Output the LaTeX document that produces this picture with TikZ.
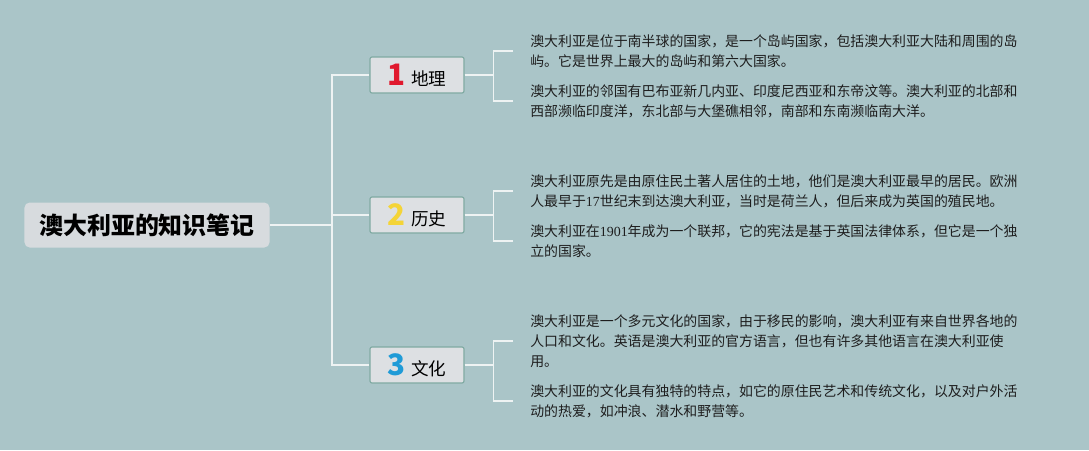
\documentclass[tikz,border=0pt]{standalone}
\usepackage{fontspec}
\setmainfont{Noto Sans CJK SC}
\newfontfamily\digitfont{Liberation Serif}
\usepackage{tikz}
\usetikzlibrary{positioning}
\usepackage{xcolor}
\definecolor{bgteal}{HTML}{AAC5C8}
\definecolor{linewhite}{HTML}{EEF3F3}
\definecolor{rootfill}{HTML}{D7DBDE}
\definecolor{topicfill}{HTML}{DDE0E3}
\definecolor{topicdraw}{HTML}{7FAAA2}
\definecolor{leaftext}{HTML}{1E1E1E}
\definecolor{numred}{HTML}{E0192E}
\definecolor{numyellow}{HTML}{F4D437}
\definecolor{numblue}{HTML}{1F9BD7}
\tikzstyle{root} = [rectangle, rounded corners=0.13cm, fill=rootfill,
    minimum width=6.125cm, minimum height=1.125cm, text=black,
    font=\fontsize{17}{20}\selectfont\bfseries]
\tikzstyle{topic} = [rectangle, rounded corners=0.05cm, draw=topicdraw, line width=0.8pt,
    fill=topicfill, minimum width=2.35cm, minimum height=0.9cm, inner sep=0pt,
    font=\fontsize{12.5}{14}\selectfont]
\tikzstyle{leaf} = [anchor=west, align=left, inner sep=0pt, text=leaftext,
    font=\fontsize{9.9}{14.2}\selectfont]
\tikzstyle{link} = [draw=linewhite, line width=1.3pt]
\newcommand{\topicnum}[2]{{\fontsize{21}{21}\selectfont\bfseries\textcolor{#1}{#2}}\hspace{0.14cm}}
\newcommand{\yr}[1]{{\digitfont #1}}

\begin{document}
\begin{tikzpicture}[x=0.025cm, y=-0.025cm]
\useasboundingbox (0,0) rectangle (1089,450);
\fill[bgteal] (0,0) rectangle (1089,450);

% --- centro ---
\node (aus) [root] at (147,225) {澳大利亚的知识笔记};

% --- temas ---
\node (geo) [topic] at (417,75) {\topicnum{numred}{1}地理};
\node (hist) [topic] at (417,215) {\topicnum{numyellow}{2}历史};
\node (cult) [topic] at (417,365) {\topicnum{numblue}{3}文化};

% --- hojas: 地理 ---
\node (geoa) [leaf] at (530,51) {澳大利亚是位于南半球的国家，是一个岛屿国家，包括澳大利亚大陆和周围的岛\\屿。它是世界上最大的岛屿和第六大国家。};
\node (geob) [leaf] at (530,101) {澳大利亚的邻国有巴布亚新几内亚、印度尼西亚和东帝汶等。澳大利亚的北部和\\西部濒临印度洋，东北部与大堡礁相邻，南部和东南濒临南大洋。};

% --- hojas: 历史 ---
\node (hista) [leaf] at (530,191) {澳大利亚原先是由原住民土著人居住的土地，他们是澳大利亚最早的居民。欧洲\\人最早于\yr{17}世纪末到达澳大利亚，当时是荷兰人，但后来成为英国的殖民地。};
\node (histb) [leaf] at (530,241) {澳大利亚在\yr{1901}年成为一个联邦，它的宪法是基于英国法律体系，但它是一个独\\立的国家。};

% --- hojas: 文化 ---
\node (culta) [leaf] at (530,341) {澳大利亚是一个多元文化的国家，由于移民的影响，澳大利亚有来自世界各地的\\人口和文化。英语是澳大利亚的官方语言，但也有许多其他语言在澳大利亚使\\用。};
\node (cultb) [leaf] at (530,401) {澳大利亚的文化具有独特的特点，如它的原住民艺术和传统文化，以及对户外活\\动的热爱，如冲浪、潜水和野营等。};

% --- tronco ---
\draw[link] (aus.east) -- ++(62,0) |- (geo.west);
\draw[link] (aus.east) -- ++(62,0) |- (hist.west);
\draw[link] (aus.east) -- ++(62,0) |- (cult.west);

% --- corchetes ---
\draw[link] (geo.east) -- ++(29,0) |- ([xshift=-0.425cm]geoa.west);
\draw[link] (geo.east) -- ++(29,0) |- ([xshift=-0.425cm]geob.west);
\draw[link] (hist.east) -- ++(29,0) |- ([xshift=-0.425cm]hista.west);
\draw[link] (hist.east) -- ++(29,0) |- ([xshift=-0.425cm]histb.west);
\draw[link] (cult.east) -- ++(29,0) |- ([xshift=-0.425cm]culta.west);
\draw[link] (cult.east) -- ++(29,0) |- ([xshift=-0.425cm]cultb.west);
\end{tikzpicture}
\end{document}
